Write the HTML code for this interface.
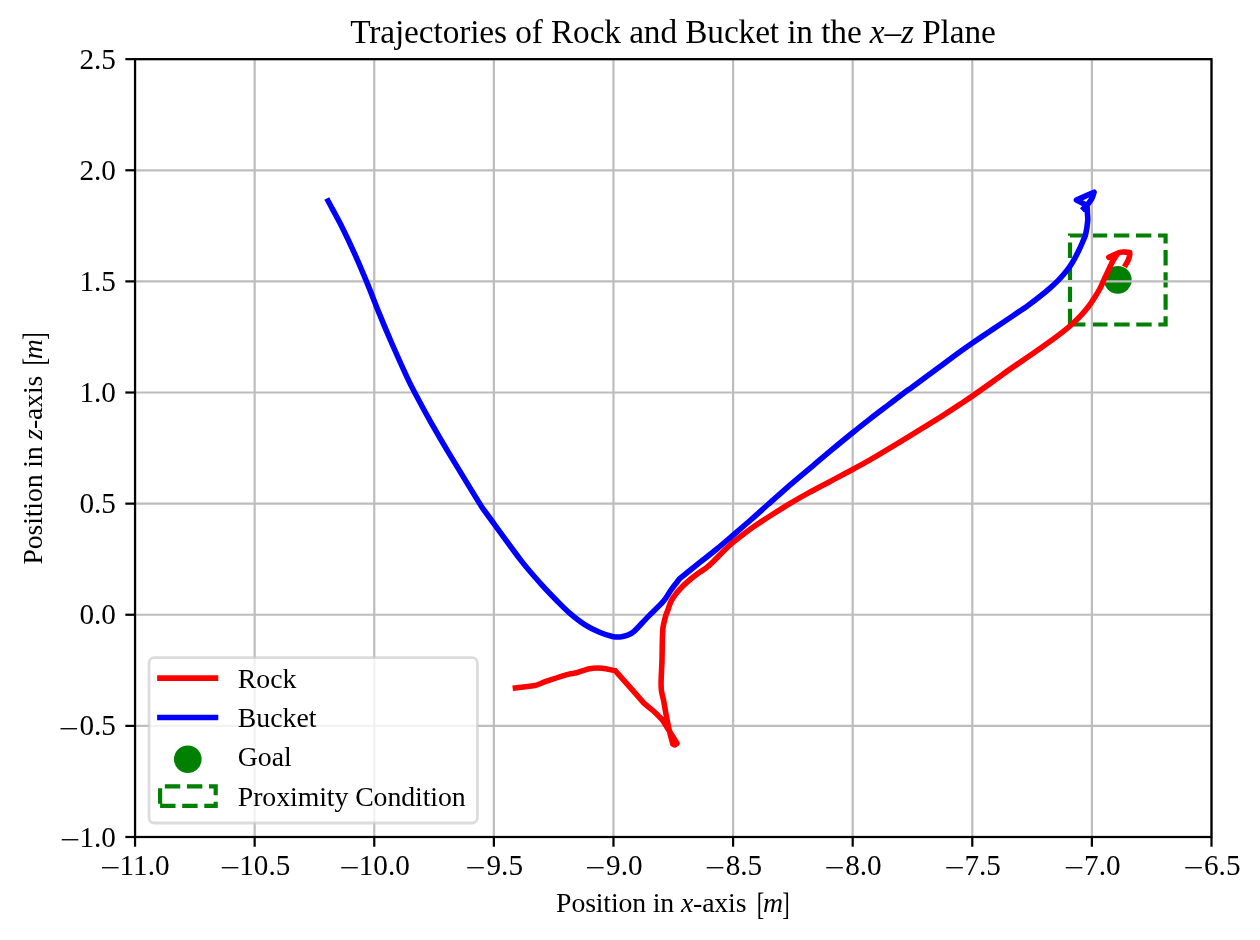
<!DOCTYPE html>
<html lang="en"><head><meta charset="utf-8"><title>Trajectories of Rock and Bucket in the x–z Plane</title>
<style>html,body{margin:0;padding:0;background:#fff}body{width:1260px;height:940px;overflow:hidden}svg{display:block}text{font-family:"Liberation Serif",serif;fill:#000}.i{font-style:italic}</style></head><body>
<svg width="1260" height="940" viewBox="0 0 1260 940">
<rect width="1260" height="940" fill="#fff"/>
<path d="M1070,324.5 H1165.6 V235.5 H1070 Z" fill="none" stroke="#008000" stroke-width="4.17" stroke-dasharray="15.42 6.67" stroke-linejoin="miter"/>
<circle cx="1117.8" cy="279.8" r="13.9" fill="#008000"/>
<g stroke="#bdbdbd" stroke-width="2.22" fill="none">
<line x1="135.05" y1="59.15" x2="135.05" y2="837.0"/>
<line x1="254.66" y1="59.15" x2="254.66" y2="837.0"/>
<line x1="374.26" y1="59.15" x2="374.26" y2="837.0"/>
<line x1="493.87" y1="59.15" x2="493.87" y2="837.0"/>
<line x1="613.47" y1="59.15" x2="613.47" y2="837.0"/>
<line x1="733.08" y1="59.15" x2="733.08" y2="837.0"/>
<line x1="852.68" y1="59.15" x2="852.68" y2="837.0"/>
<line x1="972.29" y1="59.15" x2="972.29" y2="837.0"/>
<line x1="1091.89" y1="59.15" x2="1091.89" y2="837.0"/>
<line x1="1211.50" y1="59.15" x2="1211.50" y2="837.0"/>
<line x1="135.05" y1="837.00" x2="1211.5" y2="837.00"/>
<line x1="135.05" y1="725.88" x2="1211.5" y2="725.88"/>
<line x1="135.05" y1="614.76" x2="1211.5" y2="614.76"/>
<line x1="135.05" y1="503.64" x2="1211.5" y2="503.64"/>
<line x1="135.05" y1="392.51" x2="1211.5" y2="392.51"/>
<line x1="135.05" y1="281.39" x2="1211.5" y2="281.39"/>
<line x1="135.05" y1="170.27" x2="1211.5" y2="170.27"/>
<line x1="135.05" y1="59.15" x2="1211.5" y2="59.15"/>
</g>
<path d="M515.40,688.00 C522.07,687.17 528.73,686.33 535.40,685.50 C540.63,683.57 545.82,681.49 551.10,679.70 C556.70,677.80 564.75,675.25 569.00,674.10 C571.48,673.43 574.11,673.45 576.60,672.80 C580.03,671.90 585.35,669.45 589.60,668.70 C593.71,667.98 597.94,667.96 602.10,668.30 C606.40,668.65 610.97,669.97 615.40,670.80 C620.67,676.77 626.45,683.32 631.20,688.70 C635.43,693.50 639.67,698.30 643.90,703.10 C645.77,704.67 647.73,706.32 649.50,707.80 C651.17,709.20 652.97,710.62 654.50,712.00 C655.95,713.31 657.35,714.72 658.70,716.10 C660.03,717.47 661.44,718.78 662.60,720.30 C663.80,721.87 664.80,723.76 665.90,725.50 C667.02,727.27 668.18,729.09 669.30,730.90 C671.15,733.88 674.43,739.23 677.00,743.40 C676.30,743.90 675.60,744.80 674.90,744.90 C674.20,745.00 673.50,744.30 672.80,744.00 C671.67,739.60 670.33,734.75 669.40,730.80 C668.58,727.32 667.83,723.43 667.20,720.30 C666.64,717.54 666.11,714.77 665.60,712.00 C664.98,708.62 664.18,703.48 663.50,700.00 C662.91,697.02 661.90,694.08 661.50,691.10 C661.10,688.12 661.05,685.10 661.10,682.10 C661.18,676.92 661.76,667.37 662.00,660.00 C662.28,651.22 662.18,636.77 662.80,629.40 C663.19,624.78 664.85,619.03 665.70,615.80 C666.23,613.80 667.19,611.94 667.90,610.00 C668.80,607.55 669.65,603.90 671.10,601.10 C672.58,598.23 674.78,595.35 676.80,592.80 C678.76,590.32 681.07,587.93 683.20,585.80 C685.24,583.76 687.38,581.84 689.60,580.00 C692.05,577.97 695.13,575.62 697.90,573.60 C700.61,571.62 703.57,569.99 706.20,567.90 C708.87,565.78 711.57,563.13 713.90,560.90 C716.06,558.83 718.18,556.52 720.20,554.50 C722.12,552.58 724.02,550.65 726.00,548.80 C728.22,546.71 730.94,544.16 733.54,541.98 C736.45,539.54 740.08,536.67 743.46,534.15 C747.23,531.33 751.86,527.99 756.17,525.05 C760.85,521.86 766.39,518.28 771.57,515.00 C777.10,511.48 783.38,507.55 789.38,503.97 C795.55,500.29 802.16,496.49 808.56,492.94 C814.91,489.42 821.86,485.85 827.80,482.69 C833.25,479.78 840.02,476.16 844.17,473.95 C847.00,472.45 849.85,470.98 852.66,469.45 C856.90,467.14 863.99,463.31 869.58,460.11 C875.55,456.67 882.23,452.64 888.52,448.86 C894.85,445.06 901.57,440.94 907.56,437.28 C913.21,433.83 918.86,430.38 924.49,426.90 C930.41,423.24 936.92,419.24 943.08,415.31 C949.34,411.32 957.18,406.15 962.04,402.96 C965.45,400.71 968.85,398.45 972.21,396.13 C976.81,392.95 984.65,387.44 989.65,383.86 C993.88,380.84 998.05,377.65 1002.24,374.66 C1006.40,371.68 1010.60,368.77 1014.81,365.87 C1019.06,362.93 1023.50,359.95 1027.78,357.01 C1032.01,354.10 1036.24,351.18 1040.44,348.21 C1044.70,345.20 1049.67,341.63 1053.35,338.96 C1056.42,336.72 1059.53,334.53 1062.50,332.17 C1065.59,329.73 1068.85,327.01 1071.89,324.26 C1074.94,321.52 1077.98,318.68 1080.78,315.69 C1083.57,312.70 1086.35,309.35 1088.69,306.29 C1090.89,303.40 1092.92,300.28 1094.82,297.29 C1096.68,294.35 1098.54,291.31 1100.10,288.30 C1101.63,285.35 1102.85,282.13 1104.20,279.20 C1105.51,276.36 1106.85,273.53 1108.20,270.70 C1109.60,267.77 1111.45,263.83 1112.60,261.60 C1113.36,260.13 1114.25,258.67 1115.10,257.30 C1115.93,255.97 1116.83,254.70 1117.70,253.40 C1114.73,254.73 1111.77,256.07 1108.80,257.40 C1112.50,255.73 1117.13,253.28 1119.90,252.40 C1121.65,251.84 1123.77,252.10 1125.40,252.10 C1126.84,252.10 1128.27,252.30 1129.70,252.40 C1129.70,253.30 1129.88,254.22 1129.70,255.10 C1129.43,256.43 1128.75,258.83 1128.10,260.40 C1127.50,261.85 1126.57,263.13 1125.80,264.50" fill="none" stroke="#ff0000" stroke-width="5.56" stroke-linejoin="round" stroke-linecap="square"/>
<path d="M328.10,201.00 C332.36,208.91 336.84,216.70 340.87,224.73 C345.32,233.58 350.36,244.24 354.80,254.14 C359.29,264.13 363.78,274.86 367.81,284.65 C371.66,294.01 375.14,303.53 378.98,312.90 C382.97,322.66 387.38,333.18 391.77,343.24 C396.42,353.89 402.99,368.46 406.87,376.80 C409.46,382.34 412.21,387.81 415.07,393.22 C419.05,400.76 425.38,412.50 430.77,422.01 C436.75,432.58 444.11,445.20 450.99,456.66 C459.48,470.81 471.46,490.15 481.70,506.90 C483.66,509.60 485.61,512.31 487.58,515.00 C494.22,524.04 512.75,549.78 521.52,561.13 C527.40,568.75 534.44,576.65 540.21,583.13 C545.37,588.92 551.36,595.12 556.17,600.04 C560.37,604.33 564.53,608.70 569.08,612.63 C573.76,616.67 579.19,621.04 584.27,624.31 C589.11,627.42 594.91,630.23 599.60,632.27 C603.72,634.05 609.00,635.71 612.40,636.50 C614.87,637.07 617.47,637.21 620.00,637.00 C622.55,636.78 625.35,636.13 627.70,635.20 C630.01,634.28 632.27,633.07 634.10,631.40 C637.50,628.30 643.36,621.47 648.10,616.60 C652.98,611.58 659.57,605.77 663.40,601.30 C666.40,597.80 668.40,593.54 671.10,589.80 C673.87,585.97 677.03,582.13 680.00,578.30 C686.82,572.85 694.33,566.83 700.46,561.95 C705.89,557.63 711.44,553.41 716.78,549.02 C722.11,544.64 727.28,540.08 732.52,535.59 C738.26,530.68 745.26,524.75 751.21,519.53 C756.93,514.51 762.94,508.99 768.21,504.29 C773.07,499.95 777.92,495.59 782.83,491.30 C787.77,486.98 792.80,482.67 797.83,478.40 C802.88,474.10 808.05,469.84 813.15,465.54 C818.74,460.83 825.25,455.21 831.37,450.12 C837.94,444.65 846.25,437.87 852.59,432.74 C858.17,428.23 863.76,423.74 869.42,419.32 C875.43,414.63 883.56,408.50 888.67,404.60 C892.47,401.70 896.24,398.76 900.07,395.90 C904.07,392.91 908.48,389.73 912.68,386.64 C916.91,383.53 921.19,380.37 925.45,377.23 C929.73,374.09 934.06,370.92 938.34,367.76 C942.62,364.60 946.91,361.38 951.16,358.28 C955.37,355.20 960.23,351.69 963.84,349.11 C966.81,346.99 969.80,344.88 972.81,342.81 C977.09,339.87 984.61,334.76 989.50,331.45 C993.72,328.61 997.98,325.82 1002.20,323.00 C1006.42,320.17 1010.63,317.34 1014.83,314.49 C1019.08,311.59 1023.50,308.68 1027.74,305.64 C1032.01,302.56 1036.65,299.05 1040.45,296.04 C1043.89,293.33 1047.61,290.19 1050.53,287.62 C1053.09,285.36 1055.82,282.78 1057.99,280.60 C1059.93,278.67 1061.79,276.66 1063.57,274.57 C1065.47,272.34 1067.61,269.77 1069.40,267.20 C1071.22,264.59 1072.92,261.74 1074.50,258.90 C1076.10,256.03 1077.65,252.82 1079.00,250.00 C1080.26,247.36 1081.48,244.67 1082.60,242.00 C1083.70,239.36 1085.04,236.78 1085.70,234.00 C1086.56,230.33 1087.50,223.45 1087.78,220.00 C1087.96,217.77 1087.50,215.53 1087.40,213.30 C1087.29,210.88 1087.20,208.10 1087.10,205.50 C1083.53,203.70 1079.97,201.90 1076.40,200.10 C1082.30,197.47 1088.20,194.83 1094.10,192.20 C1093.30,194.43 1092.86,196.83 1091.70,198.90 C1090.40,201.22 1088.10,203.70 1086.30,206.10 C1085.50,206.83 1084.70,207.57 1083.90,208.30" fill="none" stroke="#0000ff" stroke-width="5.56" stroke-linejoin="round" stroke-linecap="square"/>
<g stroke="#000" stroke-width="2.22">
<line x1="135.05" y1="837.0" x2="135.05" y2="846.72"/>
<line x1="254.66" y1="837.0" x2="254.66" y2="846.72"/>
<line x1="374.26" y1="837.0" x2="374.26" y2="846.72"/>
<line x1="493.87" y1="837.0" x2="493.87" y2="846.72"/>
<line x1="613.47" y1="837.0" x2="613.47" y2="846.72"/>
<line x1="733.08" y1="837.0" x2="733.08" y2="846.72"/>
<line x1="852.68" y1="837.0" x2="852.68" y2="846.72"/>
<line x1="972.29" y1="837.0" x2="972.29" y2="846.72"/>
<line x1="1091.89" y1="837.0" x2="1091.89" y2="846.72"/>
<line x1="1211.50" y1="837.0" x2="1211.50" y2="846.72"/>
<line x1="125.33" y1="837.00" x2="135.05" y2="837.00"/>
<line x1="125.33" y1="725.88" x2="135.05" y2="725.88"/>
<line x1="125.33" y1="614.76" x2="135.05" y2="614.76"/>
<line x1="125.33" y1="503.64" x2="135.05" y2="503.64"/>
<line x1="125.33" y1="392.51" x2="135.05" y2="392.51"/>
<line x1="125.33" y1="281.39" x2="135.05" y2="281.39"/>
<line x1="125.33" y1="170.27" x2="135.05" y2="170.27"/>
<line x1="125.33" y1="59.15" x2="135.05" y2="59.15"/>
</g>
<rect x="135.05" y="59.15" width="1076.45" height="777.85" fill="none" stroke="#000" stroke-width="2.22" stroke-linejoin="miter"/>
<text y="875.0" font-size="29.2"><tspan x="100.55" dy="2.2" font-size="27.78" textLength="20.13" lengthAdjust="spacingAndGlyphs">−</tspan><tspan x="119.57" dy="-2.2">11.0</tspan></text>
<text y="875.0" font-size="29.2"><tspan x="220.17" dy="2.2" font-size="27.78" textLength="20.13" lengthAdjust="spacingAndGlyphs">−</tspan><tspan x="239.19" dy="-2.2">10.5</tspan></text>
<text y="875.0" font-size="29.2"><tspan x="339.77" dy="2.2" font-size="27.78" textLength="20.13" lengthAdjust="spacingAndGlyphs">−</tspan><tspan x="358.78" dy="-2.2">10.0</tspan></text>
<text y="875.0" font-size="29.2"><tspan x="465.87" dy="2.2" font-size="27.78" textLength="20.13" lengthAdjust="spacingAndGlyphs">−</tspan><tspan x="486.52" dy="-2.2">9.5</tspan></text>
<text y="875.0" font-size="29.2"><tspan x="585.46" dy="2.2" font-size="27.78" textLength="20.13" lengthAdjust="spacingAndGlyphs">−</tspan><tspan x="606.11" dy="-2.2">9.0</tspan></text>
<text y="875.0" font-size="29.2"><tspan x="705.17" dy="2.2" font-size="27.78" textLength="20.13" lengthAdjust="spacingAndGlyphs">−</tspan><tspan x="725.64" dy="-2.2">8.5</tspan></text>
<text y="875.0" font-size="29.2"><tspan x="824.76" dy="2.2" font-size="27.78" textLength="20.13" lengthAdjust="spacingAndGlyphs">−</tspan><tspan x="845.23" dy="-2.2">8.0</tspan></text>
<text y="875.0" font-size="29.2"><tspan x="944.79" dy="2.2" font-size="27.78" textLength="20.13" lengthAdjust="spacingAndGlyphs">−</tspan><tspan x="964.44" dy="-2.2">7.5</tspan></text>
<text y="875.0" font-size="29.2"><tspan x="1064.38" dy="2.2" font-size="27.78" textLength="20.13" lengthAdjust="spacingAndGlyphs">−</tspan><tspan x="1084.04" dy="-2.2">7.0</tspan></text>
<text y="875.0" font-size="29.2"><tspan x="1183.66" dy="2.2" font-size="27.78" textLength="20.13" lengthAdjust="spacingAndGlyphs">−</tspan><tspan x="1203.99" dy="-2.2">6.5</tspan></text>
<text y="846.50" font-size="29.2"><tspan x="60.39" dy="2.2" font-size="27.78" textLength="20.13" lengthAdjust="spacingAndGlyphs">−</tspan><tspan x="79.41" dy="-2.2">1.0</tspan></text>
<text y="735.38" font-size="29.2"><tspan x="58.96" dy="2.2" font-size="27.78" textLength="20.13" lengthAdjust="spacingAndGlyphs">−</tspan><tspan x="79.44" dy="-2.2">0.5</tspan></text>
<text x="79.41" y="624.26" font-size="29.2">0.0</text>
<text x="79.44" y="513.14" font-size="29.2">0.5</text>
<text x="79.41" y="402.01" font-size="29.2">1.0</text>
<text x="79.44" y="290.89" font-size="29.2">1.5</text>
<text x="79.41" y="179.77" font-size="29.2">2.0</text>
<text x="79.44" y="68.65" font-size="29.2">2.5</text>
<text x="556.10" y="912.4" font-size="27.78" letter-spacing="-0.145">Position in <tspan class="i">x</tspan>-axis <tspan x="756.63" dy="2.6" font-size="32.14" letter-spacing="0" textLength="7.49" lengthAdjust="spacingAndGlyphs">[</tspan><tspan class="i" x="762.90" dy="-2.6" letter-spacing="0">m</tspan><tspan x="782.29" dy="2.6" font-size="32.14" letter-spacing="0" textLength="7.49" lengthAdjust="spacingAndGlyphs">]</tspan></text>
<text transform="translate(41.9,448.5) rotate(-90)" x="-116.00" y="0" font-size="27.78" letter-spacing="-0.145">Position in <tspan class="i">z</tspan>-axis <tspan x="83.03" dy="2.6" font-size="32.14" letter-spacing="0" textLength="7.49" lengthAdjust="spacingAndGlyphs">[</tspan><tspan class="i" x="89.30" dy="-2.6" letter-spacing="0">m</tspan><tspan x="108.69" dy="2.6" font-size="32.14" letter-spacing="0" textLength="7.49" lengthAdjust="spacingAndGlyphs">]</tspan></text>
<text x="673.0" y="42.6" font-size="33.33" text-anchor="middle" textLength="645.6" lengthAdjust="spacing">Trajectories of Rock and Bucket in the <tspan class="i">x</tspan>–<tspan class="i">z</tspan> Plane</text>
<rect x="149.0" y="657.7" width="328.4" height="165.3" rx="5.2" ry="5.2" fill="#fff" fill-opacity="0.8" stroke="#cccccc" stroke-opacity="0.68" stroke-width="2.78"/>
<path d="M159.9,678.1 H215.5" stroke="#ff0000" stroke-width="5.56" stroke-linecap="square" fill="none"/>
<path d="M159.9,717.5 H215.5" stroke="#0000ff" stroke-width="5.56" stroke-linecap="square" fill="none"/>
<circle cx="187.8" cy="759.2" r="13.8" fill="#008000"/>
<path d="M160.1,805.8 H215.7 V786.4 H160.1 Z" fill="none" stroke="#008000" stroke-width="4.17" stroke-dasharray="15.42 6.67"/>
<text x="237.8" y="688.0" font-size="27.78">Rock</text>
<text x="237.8" y="727.1" font-size="27.78">Bucket</text>
<text x="237.8" y="766.3" font-size="27.78">Goal</text>
<text x="237.8" y="805.8" font-size="27.78" textLength="227.9" lengthAdjust="spacing">Proximity Condition</text>
</svg></body></html>
